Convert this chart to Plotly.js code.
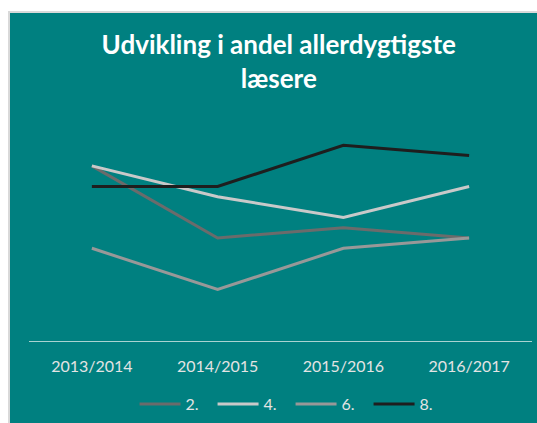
<!DOCTYPE html>
<html>
<head>
<meta charset="utf-8">
<script src="https://cdn.plot.ly/plotly-3.0.1.min.js"></script>
<style>
  html, body { margin: 0; padding: 0; background: #ffffff; width: 537px; height: 423px; overflow: hidden; }
  #wrap { position: absolute; left: 8px; top: 11px; border-left: 2px solid #d9d9d9; border-top: 2px solid #d9d9d9; }
  #chart { width: 527px; height: 410px; }
</style>
</head>
<body>
<div id="wrap"><div id="chart"></div></div>
<script>
const categories = ["2013/2014", "2014/2015", "2015/2016", "2016/2017"];
const seriesNames = ["2.", "4.", "6.", "8."];
const grade2 = [17, 10, 11, 10];
const grade4 = [17, 14, 12, 15];
const grade6 = [9, 5, 9, 10];
const grade8 = [15, 15, 19, 18];

const values = [grade2, grade4, grade6, grade8];
const colors = ["#6b6b6b", "#c9c9c9", "#989898", "#1e1e1e"];

const traces = values.map((v, i) => ({
  type: "scatter",
  mode: "lines",
  name: seriesNames[i],
  x: categories,
  y: v,
  line: { color: colors[i], width: 3 },
  hoverinfo: "skip"
}));

const font = "Lato, 'Open Sans', sans-serif";
const layout = {
  width: 527,
  height: 410,
  paper_bgcolor: "#008080",
  plot_bgcolor: "#008080",
  margin: { l: 19, r: 5, t: 122, b: 82, pad: 0 },
  title: {
    text: "Udvikling i andel allerdygtigste<br>læsere",
    font: { family: font, size: 26, color: "#ffffff", weight: "bold" },
    x: 0.51, xref: "container", xanchor: "center",
    y: 0.9, yref: "container", yanchor: "top"
  },
  xaxis: {
    type: "category",
    range: [-0.5, 3.5],
    showgrid: false,
    zeroline: false,
    showline: true,
    linecolor: "#a9d3d1",
    linewidth: 1,
    ticks: "",
    tickfont: { family: font, size: 16, color: "#e4e4e4" },
    ticklabelstandoff: 11,
    fixedrange: true
  },
  yaxis: {
    range: [0, 20],
    visible: false,
    showgrid: false,
    zeroline: false,
    fixedrange: true
  },
  showlegend: true,
  legend: {
    orientation: "h",
    x: 0.52, xanchor: "center",
    y: 0.046, yref: "container", yanchor: "middle",
    font: { family: font, size: 16, color: "#e4e4e4" },
    bgcolor: "rgba(0,0,0,0)",
    itemwidth: 41,
    entrywidth: 22,
    entrywidthmode: "pixels",
    itemclick: false,
    itemdoubleclick: false
  }
};

Plotly.newPlot("chart", traces, layout, { staticPlot: true, displayModeBar: false });
</script>
</body>
</html>
